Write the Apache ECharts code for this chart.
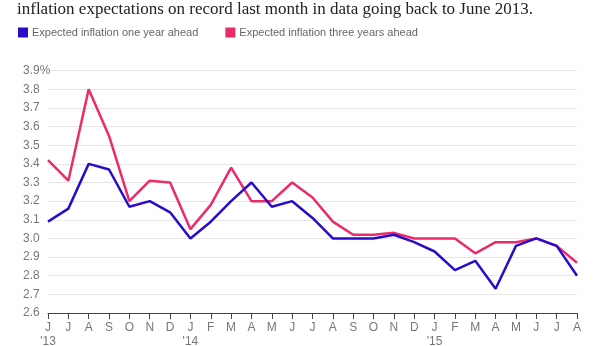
<!DOCTYPE html>
<html>
<head>
<meta charset="utf-8">
<script src="https://cdn.jsdelivr.net/npm/echarts@6/dist/echarts.min.js"></script>
<style>
html,body{margin:0;padding:0;background:#fff;}
#c{width:616px;height:346px;}
</style>
</head>
<body>
<div id="c"></div>
<script>
var titleText = "inflation expectations on record last month in data going back to June 2013.";
var months = ["J","J","A","S","O","N","D","J","F","M","A","M","J","J","A","S","O","N","D","J","F","M","A","M","J","J","A"];
var years = {0:"'13", 7:"'14", 19:"'15"};
var seriesNames = ["Expected inflation one year ahead", "Expected inflation three years ahead"];
var oneYear = [3.09,3.16,3.40,3.37,3.17,3.20,3.14,3.00,3.09,3.20,3.30,3.17,3.20,3.11,3.00,3.00,3.00,3.02,2.98,2.93,2.83,2.88,2.73,2.96,3.00,2.96,2.80];
var threeYear = [3.42,3.31,3.80,3.55,3.20,3.31,3.30,3.05,3.18,3.38,3.20,3.20,3.30,3.22,3.09,3.02,3.02,3.03,3.00,3.00,3.00,2.92,2.98,2.98,3.00,2.96,2.87];
var yMin = 2.6, yMax = 3.9, yStep = 0.1;

var categories = months.map(function(m,i){ return years[i] ? m + "\n" + years[i] : m; });

var chart = echarts.init(document.getElementById('c'), null, {renderer:'canvas'});
chart.setOption({
  animation:false,
  backgroundColor:'#fff',
  title:{
    text:titleText,
    left:12, top:-4,
    textStyle:{fontFamily:'Liberation Serif', fontSize:17, fontWeight:'normal', color:'#222'}
  },
  legend:{
    left:13, top:22,
    icon:'rect', itemWidth:10, itemHeight:10, itemGap:27,
    textStyle:{fontFamily:'Liberation Sans', fontSize:11, color:'#666', padding:[0,0,0,-1]},
    data:seriesNames
  },
  grid:{left:48, right:39, top:70.7, bottom:33, containLabel:false, outerBoundsMode:'none'},
  xAxis:{
    type:'category', boundaryGap:false, data:categories,
    axisLine:{lineStyle:{color:'#444', width:1}},
    axisTick:{show:true, alignWithLabel:true, length:6, lineStyle:{color:'#444'}},
    axisLabel:{interval:0, margin:8, fontFamily:'Liberation Sans', fontSize:12, color:'#777', lineHeight:14, verticalAlign:'top'},
    splitLine:{show:false}
  },
  yAxis:{
    type:'value', min:yMin, max:yMax, interval:yStep,
    axisLine:{show:false}, axisTick:{show:false},
    axisLabel:{align:'left', margin:25, fontFamily:'Liberation Sans', fontSize:12, color:'#777',
      formatter:function(v){ var s=v.toFixed(1); return Math.abs(v-yMax)<1e-6 ? s+'%' : s; }},
    splitLine:{lineStyle:{color:'#e6e6e6', width:1}}
  },
  series:[
    {name:seriesNames[0], type:'line', data:oneYear, showSymbol:false, symbol:'none',
     itemStyle:{color:'#2a0bc9'}, lineStyle:{color:'#2a0bc9', width:2.5}, z:3},
    {name:seriesNames[1], type:'line', data:threeYear, showSymbol:false, symbol:'none',
     itemStyle:{color:'#ec2b6b'}, lineStyle:{color:'#ec2b6b', width:2.5}, z:2}
  ]
});
</script>
</body>
</html>
